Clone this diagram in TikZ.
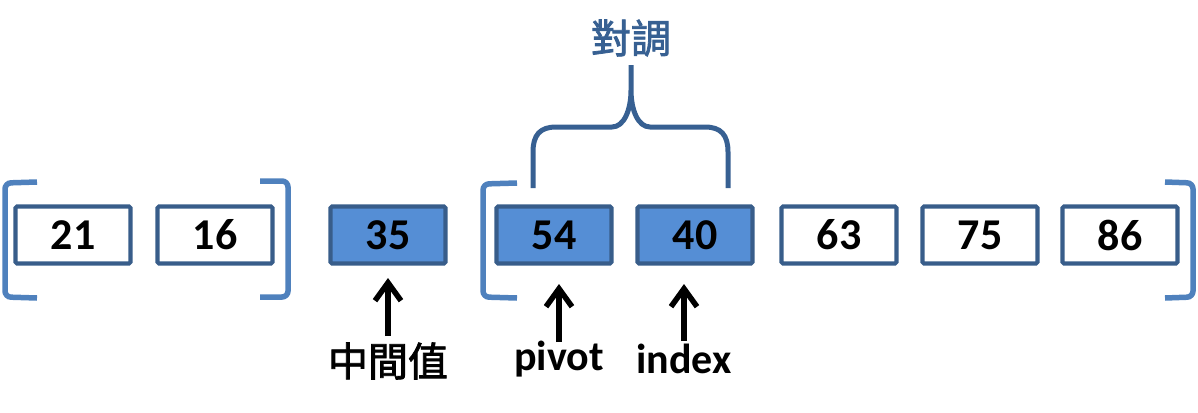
\documentclass[tikz,border=0pt]{standalone}
\usepackage{fontspec}
\setmainfont{Carlito}
\newfontfamily\cjk{Noto Sans CJK TC}[FakeBold=2]
\usetikzlibrary{arrows.meta}
\definecolor{boxline}{HTML}{385D8A}
\definecolor{boxfill}{HTML}{558ED5}
\definecolor{brk}{HTML}{4F81BD}
\definecolor{brace}{HTML}{376092}
\tikzset{
  cell/.style={draw=boxline, line width=4.2pt, minimum width=115pt, minimum height=57pt, inner sep=0pt, font=\bfseries\fontsize{44}{44}\selectfont, rounded corners=1.5pt},
  hot/.style={cell, fill=boxfill},
  brkt/.style={draw=brk, line width=5.5pt, rounded corners=6pt},
  ptr/.style={draw=black, line width=5.5pt, -{Straight Barb[length=18pt,width=26pt,line width=5.5pt]}},
  lbl/.style={font=\bfseries\fontsize{42}{42}\selectfont, inner sep=0pt},
  cjklbl/.style={font=\cjk\fontsize{40}{40}\selectfont, inner sep=0pt},
}
\begin{document}
\begin{tikzpicture}[x=1pt,y=-1pt]
\useasboundingbox (0,0) rectangle (1198,412);
\node[cell] (a21) at (73,235) {21};
\node[cell] (a16) at (215,235) {16};
\node[hot] (a35) at (388,235) {35};
\node[hot] (a54) at (554,235) {54};
\node[hot] (a40) at (695,235) {40};
\node[cell] (a63) at (839,235) {63};
\node[cell] (a75) at (980,235) {75};
\node[cell] (a86) at (1120,235) {86};
% brackets
\draw[brkt] (37,182) -- (5,183) -- (5,297) -- (37,298);
\draw[brkt] (260,181) -- (288,181) -- (288,297) -- (260,297);
\draw[brkt] (517,183) -- (483,184) -- (483,297) -- (517,298);
\draw[brkt] (1165,182) -- (1193,183) -- (1193,297) -- (1165,298);
% brace
\coordinate (bl) at (533,188);
\coordinate (br) at (728,188);
\coordinate (bt) at (631,65);
\draw[draw=brace, line width=5pt, line join=round]
  (bl) -- (533,152) .. controls (533,135) and (540,127) .. (556,127) -- (612,127)
  .. controls (624,127) and (631,110) .. (631,90) -- (bt)
  (br) -- (728,152) .. controls (728,135) and (721,127) .. (705,127) -- (650,127)
  .. controls (638,127) and (631,110) .. (631,90);
\node[font=\cjk\fontsize{40}{40}\selectfont, text=brace, inner sep=0pt] (swap) at (631,38) {對調};
% pointers
\node[cjklbl] (mid) at (388,361) {中間值};
\node[lbl, anchor=base] (piv) at (559,370) {pivot};
\node[lbl, anchor=base] (idx) at (684,373) {index};
\coordinate (tmid) at (388,278);
\coordinate (tpiv) at (559,284);
\coordinate (tidx) at (684,284);
\draw[ptr] (388,336) -- (tmid);
\draw[ptr] (559,342) -- (tpiv);
\draw[ptr] (684,341) -- (tidx);
\end{tikzpicture}
\end{document}
